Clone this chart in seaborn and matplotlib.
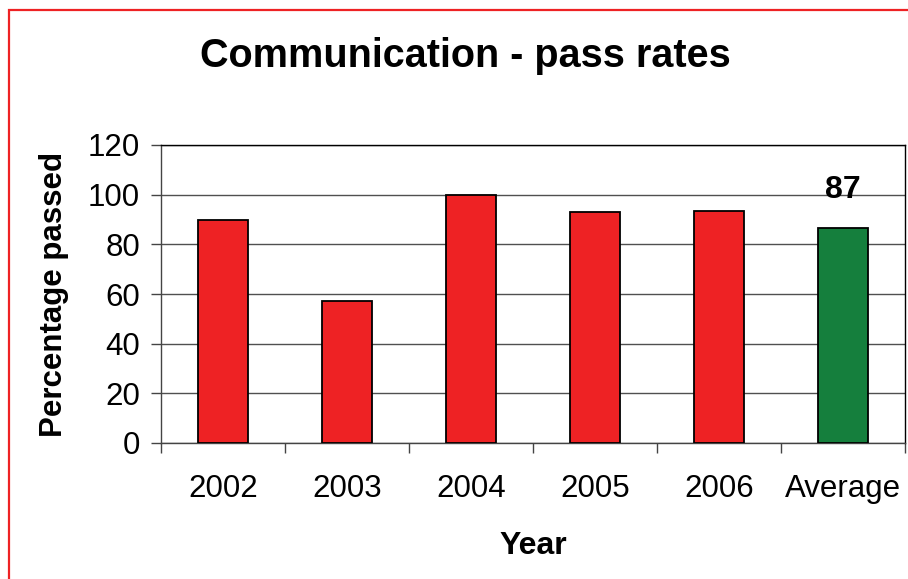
import matplotlib
matplotlib.use("Agg")
import matplotlib.pyplot as plt
from matplotlib.patches import Rectangle
from matplotlib.ticker import FixedLocator
import numpy as np
import pandas as pd
import seaborn as sns

years = ["2002", "2003", "2004", "2005", "2006"]
pass_rates = [89.8, 57.3, 100.0, 92.9, 93.6]
average_label = "Average"
average_rate = float(np.mean(pass_rates))

categories = years + [average_label]
values = pass_rates + [average_rate]
bar_colors = ["#EE2224"] * len(years) + ["#157F3D"]

sns.set_theme(style="white")
plt.rcParams["font.family"] = ["Liberation Sans", "DejaVu Sans"]
plt.rcParams["text.color"] = "black"
plt.rcParams["axes.labelcolor"] = "black"
plt.rcParams["xtick.color"] = "black"
plt.rcParams["ytick.color"] = "black"

df = pd.DataFrame({"Year": categories, "Rate": values})

fig = plt.figure(figsize=(9.08, 5.79), dpi=100)
ax = fig.add_axes([161 / 908, 1 - 443 / 579, 744 / 908, 298 / 579])

sns.barplot(data=df, x="Year", y="Rate", hue="Year", palette=bar_colors,
            legend=False, width=0.41, edgecolor="black", linewidth=1.3,
            saturation=1, ax=ax, zorder=3)

ax.set_ylim(0, 120)
ax.set_xlim(-0.5, len(categories) - 0.5)
ax.set_yticks(range(0, 121, 20))
ax.yaxis.grid(True, color="#505050", linewidth=1.0, zorder=0)
ax.xaxis.grid(False)

for side in ["left", "right", "top", "bottom"]:
    ax.spines[side].set_visible(True)
    ax.spines[side].set_color("black")
    ax.spines[side].set_linewidth(1.0)
ax.spines["left"].set_color("#444444")
ax.spines["bottom"].set_color("#444444")

ax.tick_params(axis="y", which="major", direction="out", length=7.2,
               width=1, color="#444444", left=True, labelsize=22.5, pad=8)
ax.tick_params(axis="x", which="major", length=0, labelsize=22.5, pad=22)
ax.xaxis.set_minor_locator(FixedLocator(np.arange(-0.5, len(categories), 1.0)))
ax.tick_params(axis="x", which="minor", direction="out", length=7.2,
               width=1, color="#444444", bottom=True)

ax.set_xlabel("Year", fontsize=23, fontweight="bold")
ax.set_ylabel("Percentage passed", fontsize=22.5, fontweight="bold")
ax.xaxis.set_label_coords(0.5, -0.295)
ax.yaxis.set_label_coords(-0.124, 0.5)

ax.text(len(categories) - 1, average_rate + 9, f"{average_rate:.0f}",
        ha="center", va="bottom", fontsize=23, fontweight="bold", zorder=4)

fig.text(465 / 908, 1 - 56 / 579, "Communication - pass rates",
         ha="center", va="center", fontsize=28.5, fontweight="bold")

# red frame around the chart area
fig.patches.append(Rectangle((9 / 908, -0.1), 1.2, 1.1 - 10 / 579,
                             transform=fig.transFigure, fill=False,
                             edgecolor="#EE2224", linewidth=1.6))

fig.savefig("out.png", dpi=100)
